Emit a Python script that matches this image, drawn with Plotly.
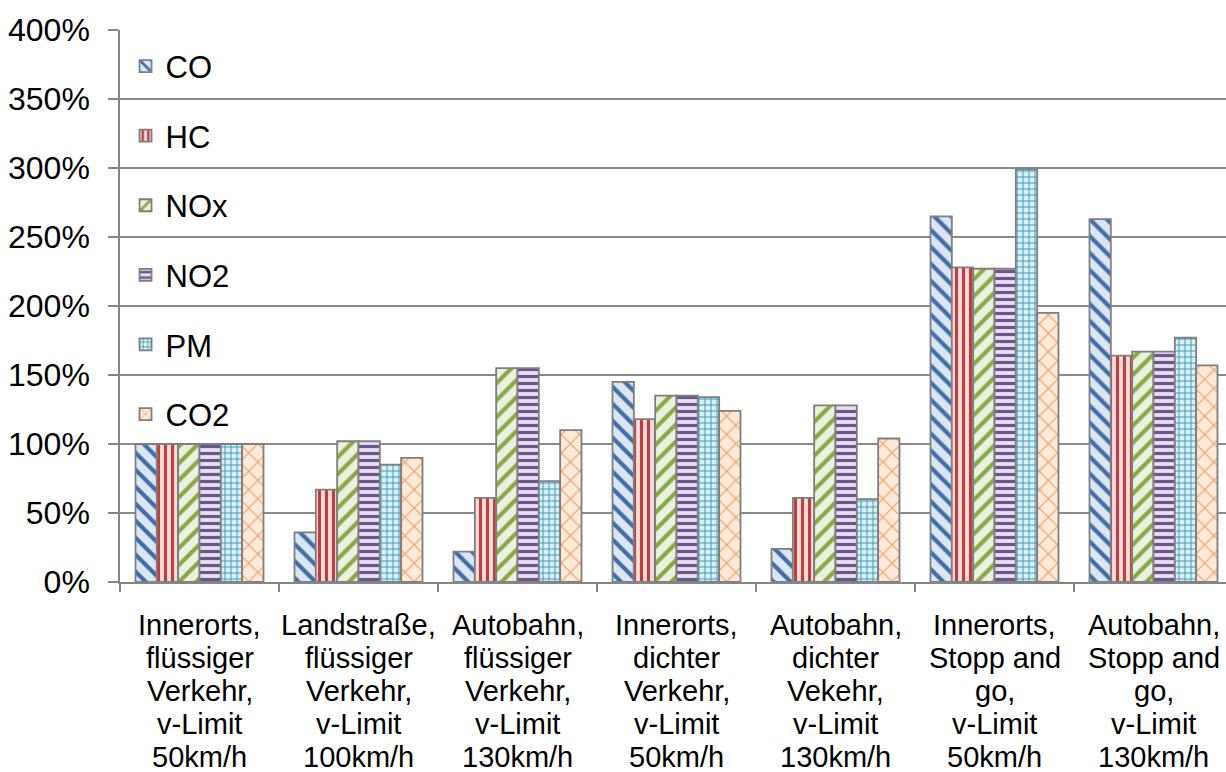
import plotly.graph_objects as go

categories = [
    ["Innerorts,", "flüssiger", "Verkehr,", "v-Limit", "50km/h"],
    ["Landstraße,", "flüssiger", "Verkehr,", "v-Limit", "100km/h"],
    ["Autobahn,", "flüssiger", "Verkehr,", "v-Limit", "130km/h"],
    ["Innerorts,", "dichter", "Verkehr,", "v-Limit", "50km/h"],
    ["Autobahn,", "dichter", "Vekehr,", "v-Limit", "130km/h"],
    ["Innerorts,", "Stopp and", "go,", "v-Limit", "50km/h"],
    ["Autobahn,", "Stopp and", "go,", "v-Limit", "130km/h"],
]

series_names = ["CO", "HC", "NOx", "NO2", "PM", "CO2"]
co  = [100, 36, 22, 145, 24, 265, 263]
hc  = [100, 67, 61, 118, 61, 228, 164]
nox = [100, 102, 155, 135, 128, 227, 167]
no2 = [100, 102, 155, 135, 128, 227, 167]
pm  = [100, 85, 73, 134, 60, 299, 177]
co2 = [100, 90, 110, 124, 104, 195, 157]
series_values = [co, hc, nox, no2, pm, co2]

y_ticks = [0, 50, 100, 150, 200, 250, 300, 350, 400]

styles = [
    dict(shape="\\", fg="#3f6eaa", bg="#dce6f2", size=12, sol=0.35),
    dict(shape="|", fg="#b9413e", bg="#f2dcdb", size=7, sol=0.45),
    dict(shape="/", fg="#86aa45", bg="#ebf1de", size=12, sol=0.35),
    dict(shape="-", fg="#6c5491", bg="#e5e0ec", size=7, sol=0.45),
    dict(shape="+", fg="#3a9fb8", bg="#dbeef4", size=6, sol=0.3),
    dict(shape="x", fg="#ee985a", bg="#fde9d9", size=13, sol=0.15),
]

FONT = "Liberation Sans, Arial, sans-serif"
x_idx = list(range(len(categories)))

fig = go.Figure()
for i, (name, vals, st) in enumerate(zip(series_names, series_values, styles)):
    fig.add_trace(go.Bar(
        x=x_idx, y=vals, name=name, legendgroup=name,
        marker=dict(
            color=st["fg"],
            line=dict(color="#7f7f7f", width=1.8),
            pattern=dict(shape=st["shape"], fgcolor=st["fg"], bgcolor=st["bg"],
                         size=st["size"], solidity=st["sol"], fillmode="replace"),
        ),
    ))

# category labels, line by line
for i, lines in enumerate(categories):
    for j, line in enumerate(lines):
        fig.add_annotation(
            x=i, y=0, xref="x", yref="paper", text=line, showarrow=False,
            yanchor="middle", xanchor="center", yshift=-(43 + 33 * j),
            font=dict(family=FONT, size=29, color="black"),
        )

fig.update_layout(
    width=1226, height=772,
    margin=dict(l=120, r=0, t=30, b=190),
    paper_bgcolor="white", plot_bgcolor="white",
    barmode="group", bargap=0.195, bargroupgap=0,
    font=dict(family=FONT, size=30, color="black"),
    showlegend=True,
    legend=dict(
        x=0.005, y=0.983, xanchor="left", yanchor="top",
        bgcolor="rgba(0,0,0,0)", tracegroupgap=26.3,
        font=dict(family=FONT, size=31, color="black"),
        traceorder="grouped",
    ),
    xaxis=dict(
        range=[-0.5, 6.456], showticklabels=False,
        tickmode="array", tickvals=[k - 0.5 for k in range(len(categories) + 1)],
        ticks="outside", ticklen=8, tickcolor="#868686", tickwidth=1.5,
        showline=True, linecolor="#868686", linewidth=2,
        showgrid=False, zeroline=False, fixedrange=True,
    ),
    yaxis=dict(
        range=[0, 400], tickmode="array", tickvals=y_ticks,
        ticktext=[f"{v}%" for v in y_ticks],
        ticks="outside", ticklen=10, tickcolor="#868686", tickwidth=1.5,
        ticklabelstandoff=12,
        showline=True, linecolor="#868686", linewidth=1.5,
        showgrid=True, gridcolor="#8a8a8a", gridwidth=1.5,
        zeroline=False, tickfont=dict(family=FONT, size=32, color="black"),
    ),
)

fig.write_html("out.html")
